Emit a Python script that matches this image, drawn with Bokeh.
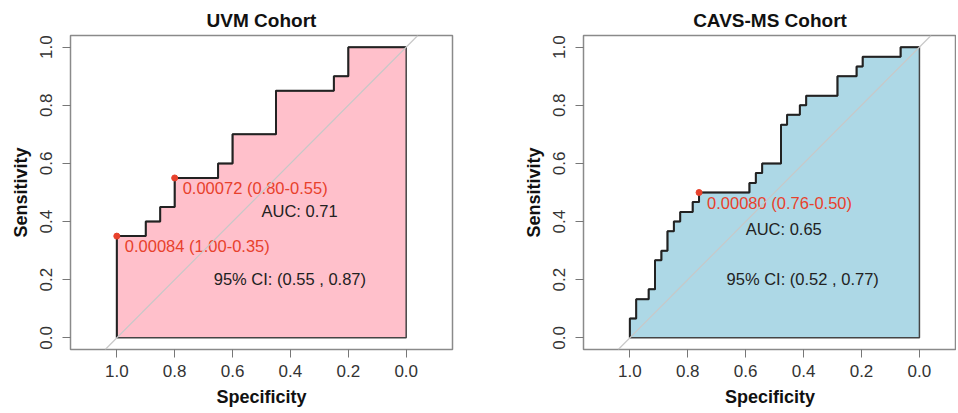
from bokeh.plotting import figure
from bokeh.layouts import row
from bokeh.models import Range1d, FixedTicker, Slope
from bokeh.core.properties import value
from bokeh.embed import file_html
from bokeh.resources import INLINE

# ---------------- data ----------------
tick_values = [0.0, 0.2, 0.4, 0.6, 0.8, 1.0]
tick_labels = ["0.0", "0.2", "0.4", "0.6", "0.8", "1.0"]

titles = ["UVM Cohort", "CAVS-MS Cohort"]

uvm_spec = [1.00, 1.00, 0.90, 0.90, 0.85, 0.85, 0.80, 0.80, 0.65, 0.65,
            0.60, 0.60, 0.45, 0.45, 0.25, 0.25, 0.20, 0.20, 0.00]
uvm_sens = [0.00, 0.35, 0.35, 0.40, 0.40, 0.45, 0.45, 0.55, 0.55, 0.60,
            0.60, 0.70, 0.70, 0.85, 0.85, 0.90, 0.90, 1.00, 1.00]

cavs_spec = [1.000, 1.000, 0.978, 0.978, 0.935, 0.935, 0.913, 0.913, 0.891, 0.891,
             0.870, 0.870, 0.848, 0.848, 0.826, 0.826, 0.783, 0.783, 0.761, 0.761,
             0.587, 0.587, 0.565, 0.565, 0.543, 0.543, 0.478, 0.478, 0.457, 0.457,
             0.413, 0.413, 0.391, 0.391, 0.283, 0.283, 0.217, 0.217, 0.196, 0.196,
             0.065, 0.065, 0.000]
cavs_sens = [0.000, 0.067, 0.067, 0.133, 0.133, 0.167, 0.167, 0.267, 0.267, 0.300,
             0.300, 0.367, 0.367, 0.400, 0.400, 0.433, 0.433, 0.467, 0.467, 0.500,
             0.500, 0.533, 0.533, 0.567, 0.567, 0.600, 0.600, 0.733, 0.733, 0.767,
             0.767, 0.800, 0.800, 0.833, 0.833, 0.900, 0.900, 0.933, 0.933, 0.967,
             0.967, 1.000, 1.000]

uvm_best_spec = [1.00, 0.80]
uvm_best_sens = [0.35, 0.55]
uvm_best_text = ["0.00084 (1.00-0.35)", "0.00072 (0.80-0.55)"]

cavs_best_spec = [0.761]
cavs_best_sens = [0.50]
cavs_best_text = ["0.00080 (0.76-0.50)"]

uvm_auc_text = "AUC: 0.71"
uvm_ci_text = "95% CI: (0.55 , 0.87)"
cavs_auc_text = "AUC: 0.65"
cavs_ci_text = "95% CI: (0.52 , 0.77)"

uvm_auc_pos = (0.50, 0.436)
uvm_ci_pos = (0.665, 0.204)
cavs_auc_pos = (0.60, 0.376)
cavs_ci_pos = (0.666, 0.204)

FONT = "Liberation Sans"
RED = "#e8412c"


def make_panel(title, spec, sens, fill, bspec, bsens, btext, auc_t, auc_p, ci_t, ci_p,
               frame_w, x_low, border_left, border_right):
    p = figure(frame_width=frame_w, frame_height=314,
               x_range=Range1d(1.16, x_low), y_range=Range1d(-0.04, 1.04),
               output_backend="svg", toolbar_location=None,
               min_border_left=border_left, min_border_right=border_right,
               min_border_top=35, min_border_bottom=56)
    p.background_fill_color = "white"
    p.border_fill_color = "white"
    p.grid.visible = False
    p.outline_line_color = "#8a8a8a"
    p.outline_line_width = 1.5

    p.title.text = title
    p.title.align = "center"
    p.title.text_font = FONT
    p.title.text_font_size = "19px"
    p.title.text_font_style = "bold"
    p.title.text_color = "#111111"
    p.title.standoff = 10

    for ax, lab in ((p.xaxis[0], "Specificity"), (p.yaxis[0], "Sensitivity")):
        ax.ticker = FixedTicker(ticks=tick_values)
        ax.major_label_overrides = {v: l for v, l in zip(tick_values, tick_labels)}
        ax.axis_line_color = None
        ax.major_tick_out = 8
        ax.major_tick_in = 0
        ax.major_tick_line_color = "#777777"
        ax.minor_tick_line_color = None
        ax.major_label_text_font = FONT
        ax.major_label_text_font_size = "17px"
        ax.major_label_text_color = "#333333"
        ax.axis_label = lab
        ax.axis_label_text_font = FONT
        ax.axis_label_text_font_size = "18px"
        ax.axis_label_text_font_style = "bold"
        ax.axis_label_text_color = "#111111"
        ax.axis_label_standoff = 7
    p.xaxis.major_label_standoff = 7
    p.yaxis.major_label_standoff = 10
    p.yaxis.major_label_orientation = "vertical"

    # diagonal reference
    p.add_layout(Slope(gradient=-1, y_intercept=1, line_color="#c8c8c8", line_width=1.2))

    # AUC polygon
    px = list(spec) + [0.0]
    py = list(sens) + [0.0]
    p.patch(px, py, fill_color=fill, line_color="#444444", line_width=1.5)
    p.line(spec, sens, line_color="#222222", line_width=2)

    # best thresholds
    p.scatter(bspec, bsens, size=6, color=RED)
    p.text(bspec, bsens, text=btext, x_offset=8, y_offset=10,
           text_font=value(FONT), text_font_size="16.5px", text_color=RED,
           text_align="left", text_baseline="middle")

    p.text([auc_p[0]], [auc_p[1]], text=[auc_t], text_font=value(FONT),
           text_font_size="16.5px", text_color="#222222",
           text_align="left", text_baseline="middle")
    p.text([ci_p[0]], [ci_p[1]], text=[ci_t], text_font=value(FONT),
           text_font_size="16.5px", text_color="#222222",
           text_align="left", text_baseline="middle")
    return p


p1 = make_panel(titles[0], uvm_spec, uvm_sens, "#ffc0cb", uvm_best_spec, uvm_best_sens,
                uvm_best_text, uvm_auc_text, uvm_auc_pos, uvm_ci_text, uvm_ci_pos,
                382, -0.16, 70, 31)
p2 = make_panel(titles[1], cavs_spec, cavs_sens, "#add8e6", cavs_best_spec, cavs_best_sens,
                cavs_best_text, cavs_auc_text, cavs_auc_pos, cavs_ci_text, cavs_ci_pos,
                373, -0.128, 100, 0)

layout = row(p1, p2)
open("out.html", "w").write(file_html(layout, INLINE))
